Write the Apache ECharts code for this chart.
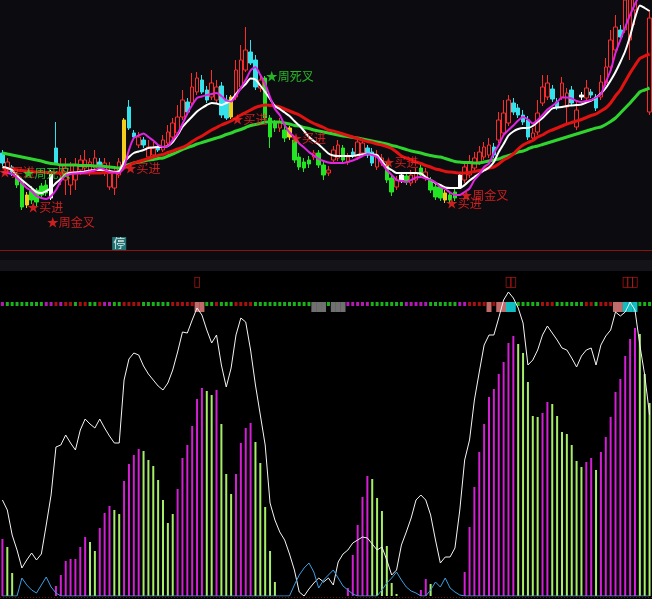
<!DOCTYPE html>
<html><head><meta charset="utf-8">
<script src="https://cdn.jsdelivr.net/npm/echarts/dist/echarts.min.js"></script>
<style>html,body{margin:0;padding:0;background:#000;}#c{width:652px;height:599px;}</style>
</head><body><div id="c"></div>
<script>
// ---- Top panel: candles (price units, hidden axis) ----
const candleKinds = "cucggygggg" + "wcuuuuuuuu" + "cuuuuyccuc" + "uucuuuuucu" + "uccuuccyuu" + "uccugggugy" + "ggggugguuu" + "gucuuccuug" + "guwguugugg" + "gyggwuuuuu" + "ucuuuccccu" + "uuuccuucuw" + "uccuuuucuu" + "uucu";
const openP = [97,80,83,75,68,45,60,60,64,65, 52,102,75,70,65,70,80,82,78,82, 88,78,63,62,75,87,143,117,105,110, 93,95,103,100,107,113,117,133,148,147, 158,170,160,153,150,164,150,133,153,163, 180,198,190,162,172,132,127,122,120,113, 110,93,88,90,93,97,85,77,90,92, 102,88,98,93,97,102,98,83,87,85, 72,63,70,74,67,70,82,72,70,63, 63,50,55,58,63,70,75,82,88,93, 95,103,110,117,127,147,142,135,130,112, 118,147,153,161,148,153,143,160,123,153, 152,158,153,153,167,183,200,220,220,210, 240,260,280,138];
const closeP = [87,88,78,65,43,55,50,48,55,57, 78,87,85,82,78,85,90,90,88,92, 83,87,78,78,88,130,122,113,113,105, 103,102,100,110,118,127,133,150,138,163, 172,158,150,167,163,135,132,153,180,190, 200,187,163,170,132,113,122,128,112,122, 90,83,82,86,97,85,75,80,100,105, 90,93,95,108,107,95,87,95,92,70, 58,70,75,68,75,77,75,78,60,53, 52,57,50,52,75,83,88,92,98,103, 105,95,130,137,150,138,135,128,113,117, 137,163,167,151,143,167,157,147,140,155, 162,155,142,168,183,210,223,213,250,260, 270,290,260,232];
const lowP = [84,77,74,62,40,42,46,44,52,54, 50,85,65,55,55,60,75,78,74,80, 80,74,60,55,72,85,120,110,102,102, 90,92,98,98,104,110,115,130,135,144, 155,156,147,150,147,132,130,131,150,160, 178,185,160,158,130,102,118,118,108,110, 87,80,78,82,90,82,70,74,87,89, 87,85,92,90,94,92,84,80,84,67, 54,60,67,65,64,67,72,69,57,50, 49,47,47,49,61,67,72,79,85,90, 92,92,107,114,124,135,132,125,110,109, 115,144,150,148,140,150,125,144,120,150, 149,152,139,150,164,180,197,210,217,190, 225,250,255,135];
const highP = [100,92,85,78,70,58,64,62,67,70, 80,128,92,92,88,92,95,100,92,100, 92,92,88,84,92,132,150,120,118,113, 110,108,106,115,125,132,145,160,152,177, 178,175,164,180,170,168,155,155,190,205, 223,210,195,175,174,135,130,132,124,124, 113,97,92,94,100,100,90,84,104,110, 105,97,102,112,112,105,102,100,96,88, 75,74,78,77,80,82,85,82,73,67, 66,60,58,62,78,88,95,98,104,108, 112,107,138,150,155,152,146,140,134,122, 150,175,175,165,152,173,162,164,150,158, 170,161,156,175,192,220,235,225,260,270, 280,300,290,240];
// moving-average lines (same price units)
const maWhite = [83,82,80,74,70,66,62,58,57,59, 62,67,71,76,77,77.5,78,78.5,79.5,80, 80,80,79,78,79,88,93,97,98.5,100, 102,102.5,103,103,104,108,115,123,128.5,133.5, 138.5,142,145,147,146.5,145,147,149.5,156,161.5, 166,171.5,170.5,164.5,158,151,144,141,137.5,134, 129,124.5,119,113,109,105.5,101,96.5,94.5,94, 94,94,94,95,95.5,96,95.5,95,89,83, 80,77,77,77,77,77,76.5,73,70,67, 65,62.5,62,62,62,65,69.5,73,76.5,79.5, 82.5,88,98,106,114.5,118.5,121,122,122,124, 128,132,137,141.5,142.5,143,144,144.5,145,145.5, 147.5,149.5,152.5,156.5,162,169.5,178,188,199,214, 232,244.5,242,239];
const maMagenta = [78,77,76,72,67,62,59,54,52,51, 54,60,69,74.5,76,76.5,77,77.5,78.5,79.5, 82,80.5,78,77.5,77,83,100,112,114.5,116.5, 113,109.5,105,103,104,110,116,126,136.5,145, 152,153.5,155,156,157,154,149.5,148.5,154,162, 170,179.5,183,175,166,153,141,135,125,117.5, 113,106.5,102.5,98,94.5,91,89,87.5,87,87, 87,88,89.5,91.5,94,96,95,93,86.5,80, 75,70,69,68,70,72.5,73,71.5,70,67.5, 63,61,57.5,55,55,58,61.5,70,75.5,83, 86.5,97,105,115,120,124.5,129.5,133,130.5,126.5, 130,135,140.5,144,148,152.5,152.5,151.5,149,148, 149,150,152.5,156,168,179.5,197,210,223,235, 246,255,260,258];
const maRed = [82,81.5,81,80,79.5,79,78.5,78,78,77.5, 77.5,77,77,77,77,77,77,77,77,77, 77,77.5,77.5,78,78,82,84.5,87,88.5,90, 91.5,93,94.5,95.5,97.5,99,101,102.5,105,108.5, 111.5,114,117,120,122.5,125,127,129,132,135, 137.5,140,142.5,144,145,144.5,144,143,141,139, 137,135,132,129,126.5,124.5,122.5,120,119,117.5, 116,114.5,113,111.5,110,108.5,107.5,106,105,103.5, 101.5,98,94,92,90,88,86.5,84.5,83,81, 80,78.5,78,77.5,77,77,77.5,78.5,79.5,80.5, 82,83,86,90,92.5,96,101,105,107.5,109.5, 113,115,118,120,122,124,126,127.5,129,130.5, 132.5,134.5,136,139,142,147,154,160,168.5,177, 184.5,191.5,194,196];
const maGreen = [97,96,95,94,93,92,91,90,89,87.5, 86.5,86,85,85,85,85,84.5,84.5,84.5,84, 84,83.5,83,82.5,82,84,85.5,87,88,89, 90,90.5,91.5,92,94,96,98,100.5,102.5,104, 106,107.5,109,110.5,112,113.5,115.5,117,119,120.5, 122.5,124.5,125.5,126.5,128,128,128,128,127,126, 124.5,124,122.5,121.5,120,119,118,117,116,115, 114,113.5,112.5,112,111,110,109,108,107,106, 104.5,103.5,102,100.5,99,98,97,95.5,94.5,93.5, 93,91.5,90,88.5,88,87.5,87.5,87,87,88, 89,90,91,93,94.5,96,98,99,101,103, 104,105.5,107,108.5,110,111.5,113,114.5,116,117.5, 119,120.5,122,123,125.5,128.5,132,137,142,147, 152.5,158,160,162];
// signal annotations
const signalIdx  = [0, 4, 54, 25, 47, 59, 78, 5, 9, 91, 94];
const signalVal  = [78, 77, 174, 82, 131, 112, 88, 43, 28, 47, 55];
const signalText = ['★买进','★周死叉','★周死叉','★买进','★买进','★买进','★买进','★买进','★周金叉','★买进','★周金叉'];
const signalKind = "rggrrrrrrrr";
const haltIdx = 24, haltVal = 6.5, haltText = '停';

// ---- Bottom panel ----
const oscBars = [57,49,23,0,0,0,0,0,0,0, 0,10,21,35,37,37,49,59,54,45, 68,83,90,86,82,115,132,141,147,145, 136,130,116,96,73,82,107,138,151,170, 197,208,205,201,206,172,122,102,122,153, 168,173,154,133,89,45,14,0,0,0, 0,0,0,0,0,0,0,0,0,0, 0,8,41,71,99,120,117,98,85,50, 13,2,0,0,0,0,6,17,12,0, 0,0,0,0,0,24,69,109,144,172, 199,207,222,234,253,260,252,243,214,180, 179,183,194,192,180,164,162,151,135,129, 134,138,126,144,159,179,204,217,240,257, 268,262,222,193];
const oscKinds = "mgg0000000" + "0mmmmmmmgg" + "mmmggmmmmg" + "ggggggmmmm" + "mmggmgggmm" + "mmgggggg00" + "0000000000" + "0mmmmmgggg" + "gg0000mmg0" + "00000mmmmm" + "mmmmmmgggg" + "gmmggggggg" + "mmgmmmmmmm" + "mggg";
const oscWhite = [96,86,61,46,28,36,43,36,42,71, 101,149,151,161,153,146,166,177,172,168, 177,168,160,153,153,216,237,243,241,230, 222,216,210,206,213,226,244,264,263,276, 288,281,266,253,261,231,209,228,261,278, 274,246,211,181,151,93,76,64,56,42, 26,4,0,7,13,18,14,18,11,34, 42,46,53,56,59,58,52,46,49,36, 21,26,51,64,78,96,101,96,81,56, 33,39,39,48,86,136,156,196,224,251, 261,261,278,296,304,298,288,273,231,236, 246,261,270,263,256,248,246,238,229,240, 246,248,231,251,260,266,284,280,284,294, 286,251,221,181];
const oscBlue = [0,0,0,0,18,11,6,3,11,19, 9,3,0,0,0,0,0,0,0,0, 0,0,0,0,0,0,0,0,0,0, 0,0,0,0,0,0,0,0,0,0, 0,0,0,0,0,0,0,0,0,0, 0,0,0,0,0,0,0,0,0,0, 11,21,28,33,24,8,16,21,26,18, 10,6,2,0,0,0,0,0,6,13, 18,24,16,9,5,3,0,0,6,14, 9,18,8,4,1,0,0,0,0,0, 0,0,0,0,0,0,0,0,0,0, 0,0,0,0,0,0,0,0,0,0, 0,0,0,0,0,0,0,0,0,0, 0,0,0,0];
const dotKinds = "mggggggggmmrmrrgrrggrmmggrrrrggggggrrrrr--ggrgggrrrrgggggggggggg---g---mmmmmgggggggmmmmmggggggmmrrrr-r----gggggrrrggggggrrgrrr-----ggg";
const dotLevel = 292;
const blockIdx = [40,41,64,65,66,68,69,70,100,102,103,104,105,126,127,128,129,130];
const blockKinds = "ppkkkkkkpppccppccc";
const blockLevel = 289;
const tofuIdx = [40,104,105,128,129,130];
const tofuLevel = 314;

const categories = openP.map((_, i) => 'D' + (i + 1));

const candleCol = {u:'#ff2b2b', c:'#35e2ec', g:'#22e422', y:'#f2cd1c', w:'#ffffff'};
const candleData = openP.map((o, i) => {
  const k = candleKinds[i], col = candleCol[k];
  const fill = k === 'u' ? 'transparent' : col;
  return {value:[o, closeP[i], lowP[i], highP[i]], itemStyle:{color:fill, color0:fill, borderColor:col, borderColor0:col, borderWidth:1}};
});
const sigCol = {r:'#ff2424', g:'#2ee02e'};
const signalData = signalIdx.map((ix, j) => ({
  value:[ix, signalVal[j]],
  label:{formatter:signalText[j], color:sigCol[signalKind[j]], offset: j === 0 ? [-4, 0] : [0, 0]}
}));
const barCol = {m:'#d41fd4', g:'#a6ee68'};
const barData = oscBars.map((v, i) => ({value:v, itemStyle:{color: barCol[oscKinds[i]] || 'transparent'}}));
const dotCol = {m:'#dd22dd', g:'#22dd22', r:'#d01414'};
const dotData = [];
for (let i = 0; i < dotKinds.length; i++) { if (dotCol[dotKinds[i]]) dotData.push({value:[i, dotLevel], itemStyle:{color:dotCol[dotKinds[i]]}}); }
const blockCol = {p:'#f08585', k:'#8c8c8c', c:'#14eef2'};
const blockData = blockIdx.map((ix, j) => ({value:[ix, blockLevel], itemStyle:{color:blockCol[blockKinds[j]]}}));
const tofuData = tofuIdx.map(ix => [ix, tofuLevel]);

const chart = echarts.init(document.getElementById('c'), null, {renderer:'canvas'});
const FONT = '"Noto Sans CJK SC", "Noto Sans", sans-serif';
chart.setOption({
  backgroundColor:'#000000',
  animation:false,
  graphic:[
    {type:'rect', shape:{x:0, y:0, width:652, height:260}, style:{fill:'#0c0c10'}, silent:true},
    {type:'rect', shape:{x:0, y:260, width:652, height:11}, style:{fill:'#141418'}, silent:true},
    {type:'line', shape:{x1:0, y1:250.5, x2:652, y2:250.5}, style:{stroke:'#8a1212', lineWidth:1}, silent:true},
    {type:'line', shape:{x1:0, y1:597.5, x2:652, y2:597.5}, style:{stroke:'#701010', lineWidth:1, lineDash:[1,2]}, silent:true}
  ],
  grid:[{left:0, right:0, top:0, height:250}, {left:0, right:0, top:270, height:326}],
  xAxis:[
    {type:'category', data:categories, gridIndex:0, show:false, boundaryGap:true},
    {type:'category', data:categories, gridIndex:1, show:false, boundaryGap:true}
  ],
  yAxis:[
    {type:'value', gridIndex:0, min:0, max:250, show:false},
    {type:'value', gridIndex:1, min:0, max:326, show:false}
  ],
  series:[
    {type:'candlestick', xAxisIndex:0, yAxisIndex:0, data:candleData, barWidth:4, clip:true, silent:true},
    {type:'line', xAxisIndex:0, yAxisIndex:0, data:maGreen, showSymbol:false, smooth:0.2, lineStyle:{color:'#2fd42f', width:3}, clip:true, silent:true},
    {type:'line', xAxisIndex:0, yAxisIndex:0, data:maRed, showSymbol:false, smooth:0.2, lineStyle:{color:'#e01212', width:3}, clip:true, silent:true},
    {type:'line', xAxisIndex:0, yAxisIndex:0, data:maWhite, showSymbol:false, smooth:0.2, lineStyle:{color:'#ffffff', width:2}, clip:true, silent:true},
    {type:'line', xAxisIndex:0, yAxisIndex:0, data:maMagenta, showSymbol:false, smooth:0.2, lineStyle:{color:'#e024e0', width:2}, clip:true, silent:true},
    {type:'scatter', xAxisIndex:0, yAxisIndex:0, data:signalData, symbolSize:1, itemStyle:{color:'transparent'}, clip:false, silent:true, z:5,
      label:{show:true, position:'right', distance:0, fontSize:12, fontFamily:FONT}},
    {type:'scatter', xAxisIndex:0, yAxisIndex:0, data:[[haltIdx, haltVal]], symbolSize:1, itemStyle:{color:'transparent'}, clip:false, silent:true, z:5,
      label:{show:true, position:'inside', formatter:haltText, color:'#ffffff', backgroundColor:'#2c8e8e', padding:[1,1,0,1], fontSize:12, fontFamily:FONT}},
    {type:'bar', xAxisIndex:1, yAxisIndex:1, data:barData, barWidth:2, silent:true},
    {type:'line', xAxisIndex:1, yAxisIndex:1, data:oscWhite, showSymbol:false, lineStyle:{color:'#f4f4f4', width:1}, silent:true, z:4},
    {type:'line', xAxisIndex:1, yAxisIndex:1, data:oscBlue, showSymbol:false, lineStyle:{color:'#3d9ee0', width:1}, silent:true, z:4},
    {type:'scatter', xAxisIndex:1, yAxisIndex:1, data:dotData, symbol:'rect', symbolSize:[3,4], silent:true},
    {type:'scatter', xAxisIndex:1, yAxisIndex:1, data:blockData, symbol:'rect', symbolSize:[5,10], silent:true, z:3},
    {type:'scatter', xAxisIndex:1, yAxisIndex:1, data:tofuData, symbolSize:1, itemStyle:{color:'transparent'}, clip:false, silent:true,
      label:{show:true, position:'inside', formatter:'▯', color:'#d01818', fontSize:14, fontFamily:'"DejaVu Sans", sans-serif'}}
  ]
});
</script></body></html>
